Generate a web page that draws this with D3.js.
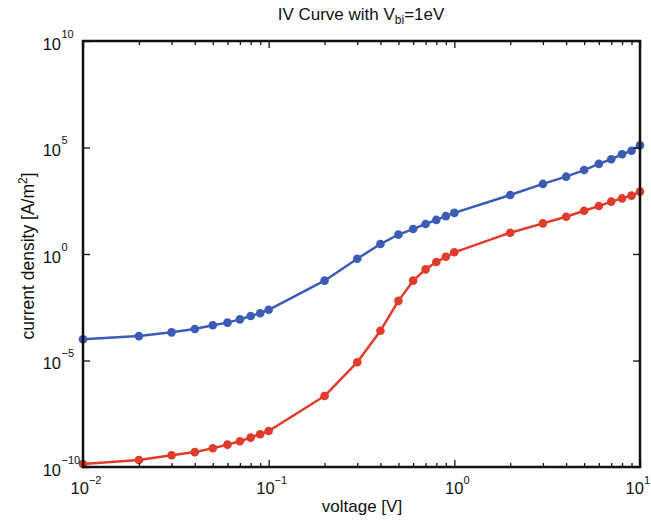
<!DOCTYPE html>
<html>
<head>
<meta charset="utf-8">
<script src="https://cdn.jsdelivr.net/npm/d3@7"></script>
<style>
  html, body { margin: 0; padding: 0; background: #fff; }
  text { font-family: "Liberation Sans", Arial, Helvetica, sans-serif; fill: #111; }
</style>
</head>
<body>
<svg id="chart" width="651" height="521"></svg>
<script>
// ---- data ----
const voltage = [0.01, 0.02, 0.03, 0.04, 0.05, 0.06, 0.07, 0.08, 0.09, 0.1,
                 0.2, 0.3, 0.4, 0.5, 0.6, 0.7, 0.8, 0.9, 1.0,
                 2, 3, 4, 5, 6, 7, 8, 9, 10];
const blueSeries = [1.0e-4, 1.4e-4, 2.1e-4, 3.0e-4, 4.5e-4, 6.0e-4, 8.5e-4, 1.23e-3, 1.66e-3, 2.4e-3,
                    5.6e-2, 0.60, 2.95, 8.1, 14.8, 25.7, 39.8, 60, 85,
                    589, 1950, 4270, 8710, 1.7e4, 2.82e4, 4.79e4, 7.08e4, 1.26e5];
const redSeries = [1.38e-10, 2.14e-10, 3.55e-10, 5.0e-10, 7.6e-10, 1.12e-9, 1.62e-9, 2.4e-9, 3.47e-9, 4.9e-9,
                   2.14e-7, 8.3e-6, 2.5e-4, 6.3e-3, 5.6e-2, 0.19, 0.42, 0.74, 1.2,
                   10, 27.5, 56, 107, 178, 288, 407, 550, 851];
const xTickExps = [-2, -1, 0, 1];
const yTickExps = [-10, -5, 0, 5, 10];
const titleText = "IV Curve with V";
const titleSub = "bi";
const titleEnd = "=1eV";
const xLabel = "voltage [V]";
const yLabel = "current density [A/m";

// ---- layout ----
const svg = d3.select("#chart");
const L = 83, R = 640, T = 41, B = 467;
const x = d3.scaleLog().domain([0.01, 10]).range([L, R]);
const y = d3.scaleLog().domain([1e-10, 1e10]).range([B, T]);

const blue = "#3b5cb6", red = "#e03b2b";

// series
function drawSeries(vals, color) {
  const pts = voltage.map((v, i) => [v, vals[i]]);
  svg.append("path")
    .datum(pts)
    .attr("fill", "none")
    .attr("stroke", color)
    .attr("stroke-width", 2.5)
    .attr("stroke-linejoin", "round")
    .attr("d", d3.line().x(d => x(d[0])).y(d => y(d[1])));
  svg.append("g").selectAll("circle")
    .data(pts).join("circle")
    .attr("cx", d => x(d[0]))
    .attr("cy", d => y(d[1]))
    .attr("r", 4.3)
    .attr("fill", color);
}
drawSeries(blueSeries, blue);
drawSeries(redSeries, red);

// ticks (inside)
const xMajor = xTickExps.map(e => Math.pow(10, e));
const xMinor = [];
for (let e = -2; e < 1; e++) for (let m = 2; m <= 9; m++) xMinor.push(m * Math.pow(10, e));
const yMajor = yTickExps.map(e => Math.pow(10, e));

function tickAxis(gen, transform, vals, size) {
  const g = svg.append("g").attr("transform", transform)
    .call(gen.tickValues(vals).tickSize(size).tickFormat(""));
  g.select(".domain").remove();
  g.selectAll(".tick line").attr("stroke", "#111").attr("stroke-width", 1.3);
  return g;
}
tickAxis(d3.axisTop(x), `translate(0,${B})`, xMajor, 7);
tickAxis(d3.axisTop(x), `translate(0,${B})`, xMinor, 4);
tickAxis(d3.axisBottom(x), `translate(0,${T})`, xMajor, 7);
tickAxis(d3.axisBottom(x), `translate(0,${T})`, xMinor, 4);
tickAxis(d3.axisRight(y), `translate(${L},0)`, yMajor, 7);
tickAxis(d3.axisLeft(y), `translate(${R},0)`, yMajor, 7);

// frame
svg.append("rect")
  .attr("x", L).attr("y", T).attr("width", R - L).attr("height", B - T)
  .attr("fill", "none").attr("stroke", "#111").attr("stroke-width", 2.5);

// tick labels
const expStr = e => (e < 0 ? "\u2212" + (-e) : String(e));
xTickExps.forEach((e, i) => {
  const last = i === xTickExps.length - 1;
  const t = svg.append("text")
    .attr("x", last ? 650 : x(Math.pow(10, e)) + 3)
    .attr("y", B + 27)
    .attr("text-anchor", last ? "end" : "middle");
  t.append("tspan").text("10").attr("font-size", 16.5);
  t.append("tspan").text(expStr(e)).attr("font-size", 11).attr("dy", -10);
});
yTickExps.forEach(e => {
  const yy = y(Math.pow(10, e)) + 8.5;
  svg.append("text")
    .attr("x", 61).attr("y", yy)
    .attr("text-anchor", "end")
    .attr("font-size", 16.5)
    .text("10");
  svg.append("text")
    .attr("x", 61.5).attr("y", yy - 12)
    .attr("font-size", 11)
    .text(expStr(e));
});

// title
const tt = svg.append("text")
  .attr("x", 361).attr("y", 20)
  .attr("text-anchor", "middle")
  .attr("font-size", 17);
tt.append("tspan").text(titleText);
tt.append("tspan").text(titleSub).attr("font-size", 12).attr("dy", 4);
tt.append("tspan").text(titleEnd).attr("dy", -4);

// x label
svg.append("text")
  .attr("x", 362).attr("y", 512)
  .attr("text-anchor", "middle")
  .attr("font-size", 17)
  .text(xLabel);

// y label
const yl = svg.append("text")
  .attr("transform", `translate(34,256) rotate(-90)`)
  .attr("text-anchor", "middle")
  .attr("font-size", 17.5);
yl.append("tspan").text(yLabel);
yl.append("tspan").text("2").attr("font-size", 12).attr("dy", -7);
yl.append("tspan").text("]").attr("dy", 7);
</script>
</body>
</html>
